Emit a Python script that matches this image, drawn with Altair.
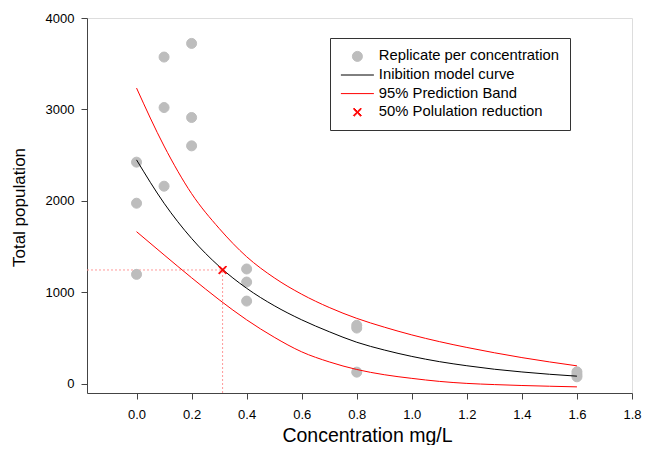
import altair as alt
import pandas as pd

# ---------------- data ----------------
rep_conc = [0.0, 0.0, 0.0, 0.1, 0.1, 0.1, 0.2, 0.2, 0.2,
            0.4, 0.4, 0.4, 0.8, 0.8, 0.8, 1.6, 1.6, 1.6]
rep_pop = [2424, 1975, 1197, 3573, 3021, 2161, 3722, 2912, 2602,
           1256, 1113, 905, 640, 610, 128, 131, 100, 77]

curve_conc = [0.0, 0.1, 0.2, 0.3, 0.4, 0.5, 0.6, 0.7, 0.8,
              0.9, 1.0, 1.1, 1.2, 1.3, 1.4, 1.5, 1.6]
model_pop = [2449, 1975, 1590, 1285, 1045, 855, 700, 570, 455,
             370, 300, 243, 198, 160, 130, 105, 84]
upper_pop = [3234, 2600, 2080, 1700, 1390, 1160, 980, 835, 716,
             620, 535, 462, 398, 340, 287, 240, 197]
lower_pop = [1664, 1410, 1160, 920, 700, 510, 350, 240, 157,
             100, 60, 27, 5, -8, -18, -26, -33]

ic50_conc = [0.3126]
ic50_pop = [1245]

x_domain = [-0.18, 1.8]
y_domain = [-100, 4000]
x_ticks = [0.0, 0.2, 0.4, 0.6, 0.8, 1.0, 1.2, 1.4, 1.6, 1.8]
y_ticks = [0, 1000, 2000, 3000, 4000]

series = ["Replicate per concentration", "Inibition model curve",
          "95% Prediction Band", "50% Polulation reduction"]
series_colors = ["#bdbdbd", "#000000", "#ff0000", "#ff0000"]

# legend / marker glyphs
LINE_PATH = "M-3.3,0L3.3,0"
X_PATH = ("M-0.8,-0.64L-0.64,-0.8L0,-0.16L0.64,-0.8L0.8,-0.64L0.16,0"
          "L0.8,0.64L0.64,0.8L0,0.16L-0.64,0.8L-0.8,0.64L-0.16,0Z")
series_shapes = ["circle", LINE_PATH, LINE_PATH, X_PATH]

# ---------------- tables ----------------
rep_df = pd.DataFrame({"conc": rep_conc, "pop": rep_pop, "series": series[0]})
cross_df = pd.DataFrame({"conc": ic50_conc, "pop": ic50_pop, "series": series[3]})

curve_rows = []
for c, m, u, l in zip(curve_conc, model_pop, upper_pop, lower_pop):
    curve_rows.append({"conc": c, "pop": m, "series": series[1], "band": "model"})
    curve_rows.append({"conc": c, "pop": u, "series": series[2], "band": "upper"})
    curve_rows.append({"conc": c, "pop": l, "series": series[2], "band": "lower"})
curve_df = pd.DataFrame(curve_rows)

hrule_df = pd.DataFrame({"conc": [x_domain[0]], "conc2": ic50_conc, "pop": ic50_pop})
vrule_df = pd.DataFrame({"conc": ic50_conc, "pop": [y_domain[0]], "pop2": ic50_pop})

# ---------------- scales / axes ----------------
xs = alt.Scale(domain=x_domain, nice=False, zero=False)
ys = alt.Scale(domain=y_domain, nice=False, zero=False)

axis_common = dict(grid=False, domainColor="#444444", tickColor="#444444",
                   tickSize=6, labelFont="Liberation Sans", labelFontSize=13,
                   labelColor="#000000", titleFont="Liberation Sans",
                   titleColor="#000000", titleFontWeight="normal")

x_axis = alt.Axis(values=x_ticks, format=".1f", labelPadding=9,
                  titleFontSize=19.5, titleX=280, titleY=48,
                  titleBaseline="alphabetic", titleAlign="center",
                  labelFlush=False, **axis_common)
y_axis = alt.Axis(values=y_ticks, format="d", labelPadding=7,
                  titleFontSize=17, titleX=-63, titleY=189, titleAngle=270,
                  titleBaseline="alphabetic", titleAlign="center",
                  labelFlush=False, **axis_common)

X = alt.X("conc:Q", scale=xs, axis=x_axis, title="Concentration mg/L")
Y = alt.Y("pop:Q", scale=ys, axis=y_axis, title="Total population")

color_scale = alt.Scale(domain=series, range=series_colors)
stroke_scale = alt.Scale(domain=series, range=series_colors)
shape_scale = alt.Scale(domain=series, range=series_shapes)

legend = alt.Legend(title=None, orient="none", legendX=243, legendY=20,
                    fillColor="white", strokeColor="#333333", padding=11,
                    labelFont="Liberation Sans", labelFontSize=14.8,
                    labelColor="#000000", labelLimit=400,
                    symbolSize=100, symbolStrokeWidth=1,
                    rowPadding=2.6, symbolOffset=9, labelOffset=14,
                    cornerRadius=0)

# ---------------- layers ----------------
hrule = alt.Chart(hrule_df).mark_rule(color="#ff9a9a", strokeDash=[2, 2], strokeWidth=1).encode(
    x=X, x2="conc2:Q", y=Y)
vrule = alt.Chart(vrule_df).mark_rule(color="#ff9a9a", strokeDash=[2, 2], strokeWidth=1).encode(
    x=X, y=Y, y2="pop2:Q")

points = alt.Chart(rep_df).mark_point(filled=True, size=100, opacity=1, strokeWidth=1).encode(
    x=X, y=Y,
    color=alt.Color("series:N", scale=color_scale, legend=legend),
    stroke=alt.Stroke("series:N", scale=stroke_scale, legend=legend),
    shape=alt.Shape("series:N", scale=shape_scale, legend=legend),
)

curves = alt.Chart(curve_df).mark_line(strokeWidth=1, interpolate="monotone").encode(
    x=X, y=Y,
    color=alt.Color("series:N", scale=color_scale, legend=None),
    detail="band:N",
)

cross = alt.Chart(cross_df).mark_point(filled=True, size=100, opacity=1, strokeWidth=1).encode(
    x=X, y=Y,
    color=alt.Color("series:N", scale=color_scale, legend=None),
    stroke=alt.Stroke("series:N", scale=stroke_scale, legend=None),
    shape=alt.Shape("series:N", scale=shape_scale, legend=None),
)

chart = alt.layer(hrule, vrule, points, curves, cross).properties(
    width=545, height=375,
    padding={"left": 79, "top": 10, "right": 10, "bottom": 52},
    autosize=alt.AutoSizeParams(type="none"),
    background="white",
).configure_view(stroke="#444444", strokeWidth=1).configure(font="Liberation Sans")

chart.save("out.html", embed_options={"renderer": "svg", "actions": False})
